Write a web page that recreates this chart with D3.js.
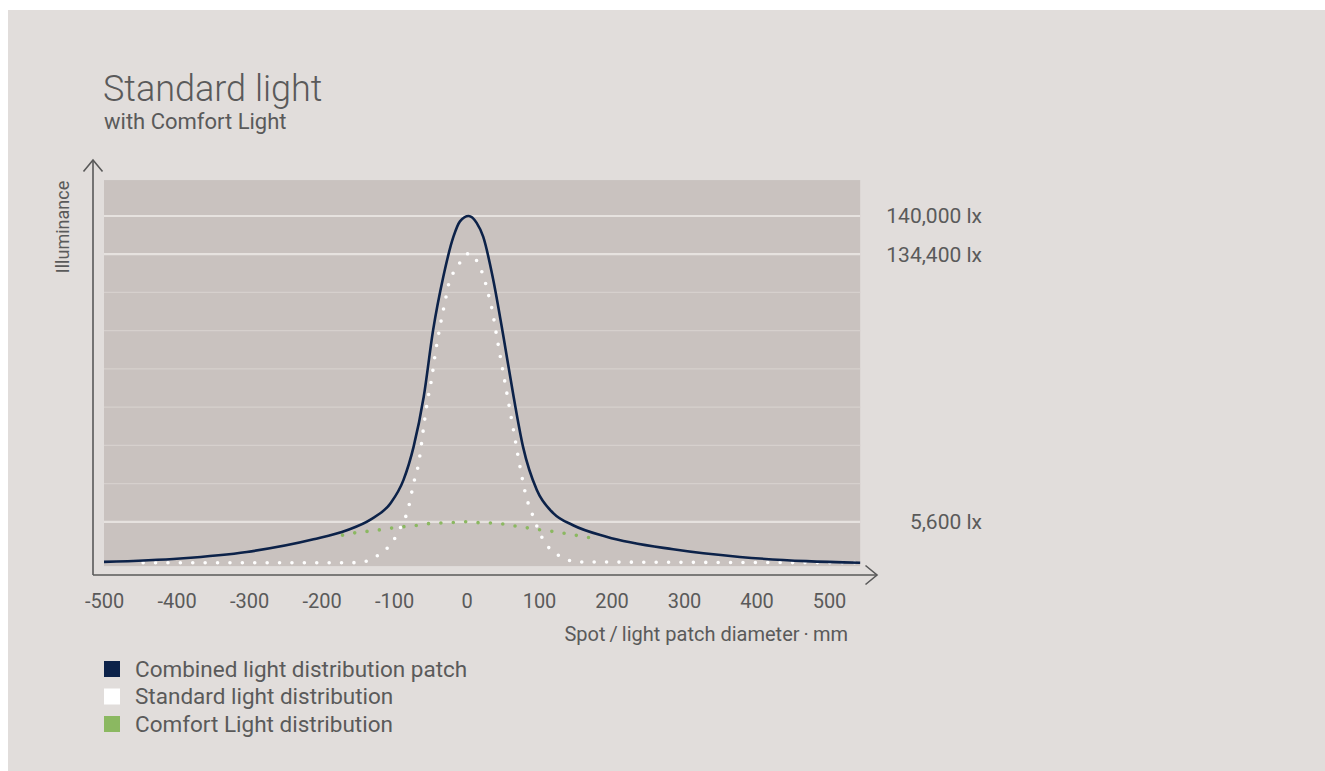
<!DOCTYPE html>
<html>
<head>
<meta charset="utf-8">
<script src="https://cdn.jsdelivr.net/npm/d3@7"></script>
<style>
  html, body { margin: 0; padding: 0; background: #fff; }
  svg { display: block; }
  text { font-family: Roboto, "Open Sans", sans-serif; fill: #5a5a5a; }
</style>
</head>
<body>
<svg id="chart" width="1325" height="771"></svg>
<script>
// x in mm, y in grid units (one unit = one horizontal gridline)
var combinedX = [-500, -395, -303, -211, -165, -133, -105, -87, -73, -59, -46, -32, -18, -9, 3, 14, 23, 37, 51, 65, 78, 97, 120, 147, 193, 285, 377, 469, 543];
var combinedY = [-0.05, 0.04, 0.21, 0.54, 0.78, 1.05, 1.48, 2.09, 2.96, 4.27, 6.02, 7.41, 8.46, 8.86, 9.0, 8.82, 8.46, 7.32, 5.84, 4.27, 2.96, 1.83, 1.22, 0.91, 0.61, 0.28, 0.08, -0.03, -0.07];

var standardX = [-446, -158, -142, -126, -112, -101, -93, -80, -73, -66, -59, -54, -48, -43, -37, -30, -23, -13, -5, 4, 15, 22, 27, 31, 35, 41, 47, 53, 59, 65, 71, 76, 83, 89, 95, 109, 121, 135, 152, 543];
var standardY = [-0.07, -0.07, -0.05, 0.08, 0.26, 0.5, 0.78, 1.37, 2.0, 2.53, 3.49, 4.14, 4.75, 5.41, 6.06, 6.72, 7.33, 7.63, 7.92, 8.02, 7.8, 7.5, 7.19, 6.89, 6.58, 5.93, 5.28, 4.65, 4.01, 3.38, 2.73, 2.22, 1.61, 1.29, 0.98, 0.43, 0.2, 0.04, -0.05, -0.07];

var comfortX = [-171, -158, -141, -123, -105, -88, -70, -53, -35, -18, 0, 13, 30, 46, 63, 81, 97, 114, 131, 147, 164, 182];
var comfortY = [0.65, 0.7, 0.74, 0.78, 0.83, 0.87, 0.9, 0.95, 0.97, 0.98, 1.0, 0.98, 0.97, 0.95, 0.9, 0.85, 0.8, 0.76, 0.71, 0.66, 0.6, 0.55];

var xTicks = [-500, -400, -300, -200, -100, 0, 100, 200, 300, 400, 500];
var gridLines = [1, 2, 3, 4, 5, 6, 7, 8, 9];
var luxLines = [9, 8, 1];
var luxLabels = ["140,000 lx", "134,400 lx", "5,600 lx"];

var legendNames = ["Combined light distribution patch", "Standard light distribution", "Comfort Light distribution"];
var legendColors = ["#0c2249", "#ffffff", "#8bb861"];

var svg = d3.select("#chart");

// page background
svg.append("rect")
  .attr("x", 8).attr("y", 10)
  .attr("width", 1325 - 8).attr("height", 771 - 10)
  .attr("fill", "#e1dddb");

var x = d3.scaleLinear().domain([-500, 500]).range([104, 829]);
var y = d3.scaleLinear().domain([0, 9]).range([560, 216]);

var xMax = 543;

// plot area
svg.append("rect")
  .attr("x", x(-500))
  .attr("y", y(9.94))
  .attr("width", x(xMax) - x(-500))
  .attr("height", y(-0.16) - y(9.94))
  .attr("fill", "#c9c2bf");

svg.append("g").selectAll("line")
  .data(gridLines)
  .enter().append("line")
  .attr("x1", x(-500)).attr("x2", x(xMax))
  .attr("y1", function(d) { return y(d); })
  .attr("y2", function(d) { return y(d); })
  .attr("stroke", function(d) { return luxLines.indexOf(d) >= 0 ? "#e6e2df" : "#d6d0cd"; })
  .attr("stroke-width", function(d) { return luxLines.indexOf(d) >= 0 ? 2.2 : 1.2; });

// lux labels on the right
svg.append("g").selectAll("text")
  .data(luxLines)
  .enter().append("text")
  .attr("x", 982)
  .attr("y", function(d) { return y(d); })
  .attr("dy", "0.35em")
  .attr("text-anchor", "end")
  .attr("font-size", 21)
  .text(function(d, i) { return luxLabels[i]; });

// curves
var line = d3.line()
  .x(function(d) { return x(d[0]); })
  .y(function(d) { return y(d[1]); })
  .curve(d3.curveMonotoneX);

svg.append("path")
  .datum(d3.zip(comfortX, comfortY))
  .attr("d", line)
  .attr("fill", "none")
  .attr("stroke", "#8bb861")
  .attr("stroke-width", 3.6)
  .attr("stroke-linecap", "round")
  .attr("stroke-dasharray", "0,12.4");

svg.append("path")
  .datum(d3.zip(standardX, standardY))
  .attr("d", line)
  .attr("fill", "none")
  .attr("stroke", "#ffffff")
  .attr("stroke-width", 3.6)
  .attr("stroke-linecap", "round")
  .attr("stroke-dasharray", "0,12.4");

svg.append("path")
  .datum(d3.zip(combinedX, combinedY))
  .attr("d", line)
  .attr("fill", "none")
  .attr("stroke", "#0c2249")
  .attr("stroke-width", 2.6);

// axes with arrows
var axisColor = "#595959";
var ox = 93, oy = 575;
svg.append("line")
  .attr("x1", ox).attr("y1", oy).attr("x2", ox).attr("y2", 160)
  .attr("stroke", axisColor).attr("stroke-width", 1.6);
svg.append("path")
  .attr("d", "M" + (ox - 9.5) + ",171.5 L" + ox + ",160 L" + (ox + 9.5) + ",171.5")
  .attr("fill", "none").attr("stroke", axisColor).attr("stroke-width", 1.6);
svg.append("line")
  .attr("x1", ox).attr("y1", oy).attr("x2", 877).attr("y2", oy)
  .attr("stroke", axisColor).attr("stroke-width", 1.6);
svg.append("path")
  .attr("d", "M865.5," + (oy - 9.5) + " L877," + oy + " L865.5," + (oy + 9.5))
  .attr("fill", "none").attr("stroke", axisColor).attr("stroke-width", 1.6);

// x tick labels
var xAxis = d3.axisBottom(x)
  .tickValues(xTicks)
  .tickFormat(function(d) { return String(d); })
  .tickSize(0).tickPadding(0);
var xg = svg.append("g")
  .attr("transform", "translate(0,592)")
  .call(xAxis);
xg.select(".domain").remove();
xg.selectAll("text")
  .attr("font-size", 20)
  .attr("font-family", null)
  .attr("fill", "#5a5a5a")
  .attr("dy", "0.8em");

svg.append("text")
  .attr("x", 848).attr("y", 641)
  .attr("text-anchor", "end")
  .attr("font-size", 20)
  .text("Spot\u2009/\u2009light patch diameter\u2009\u00b7\u2009mm");

svg.append("text")
  .attr("transform", "translate(68.5,227) rotate(-90)")
  .attr("text-anchor", "middle")
  .attr("font-size", 18)
  .text("Illuminance");

// title
svg.append("text")
  .attr("x", 103).attr("y", 101)
  .attr("font-size", 36)
  .attr("font-weight", 300)
  .text("Standard light");
svg.append("text")
  .attr("x", 104).attr("y", 129)
  .attr("font-size", 22)
  .text("with Comfort Light");

// legend
var legend = svg.append("g").selectAll("g")
  .data(legendNames)
  .enter().append("g")
  .attr("transform", function(d, i) { return "translate(104," + (669 + i * 27.5) + ")"; });
legend.append("rect")
  .attr("x", 0).attr("y", -8)
  .attr("width", 16).attr("height", 16)
  .attr("fill", function(d, i) { return legendColors[i]; });
legend.append("text")
  .attr("x", 31)
  .attr("dy", "0.35em")
  .attr("font-size", 22.5)
  .text(function(d) { return d; });
</script>
</body>
</html>
